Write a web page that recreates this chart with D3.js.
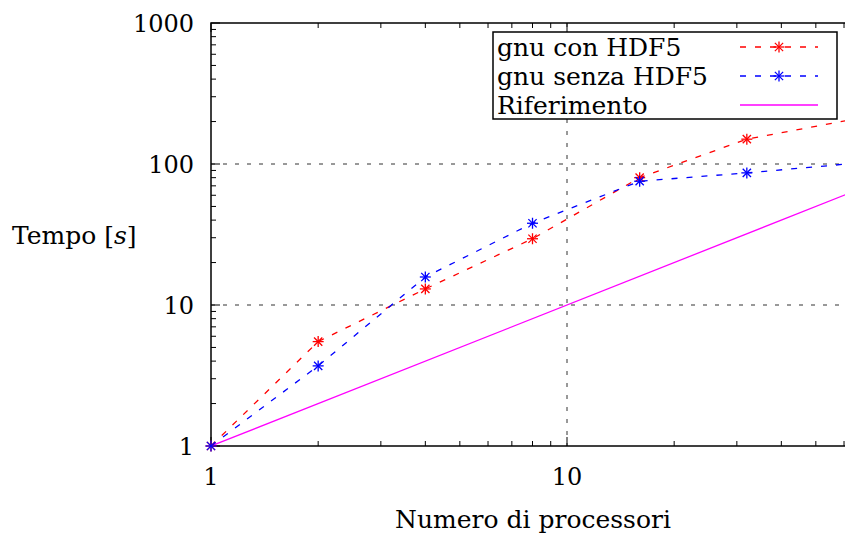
<!DOCTYPE html>
<html>
<head>
<meta charset="utf-8">
<script src="https://cdn.jsdelivr.net/npm/d3@7"></script>
<style>
  body { margin: 0; background: #fff; }
  svg { display: block; }
  text { font-family: "DejaVu Serif", "Liberation Serif", serif; fill: #000; }
</style>
</head>
<body>
<svg id="chart"></svg>
<script>
const width = 845;
const height = 536;

// data
const processors = [1, 2, 4, 8, 16, 32, 64];
const conHDF5 = [1, 5.5, 13, 29.5, 80, 150, 208];
const senzaHDF5 = [1, 3.7, 15.8, 38, 75.5, 86.5, 101];
const riferimento = [1, 64];
const xTicks = [1, 10];
const yTicks = [1, 10, 100, 1000];
const seriesNames = ["gnu con HDF5", "gnu senza HDF5", "Riferimento"];

const tickFont = 24;
const titleFont = 25;
const legendFont = 25;

const svg = d3.select("#chart")
    .attr("width", width)
    .attr("height", height);

const plotLeft = 211, plotTop = 23, plotBottom = 446;

const x = d3.scaleLog().domain([1, 64]).range([plotLeft, plotLeft + 356 * Math.log10(64)]);
const y = d3.scaleLog().domain([1, 1000]).range([plotBottom, plotTop]);
const plotRight = x(64);

svg.append("defs").append("clipPath").attr("id", "clip")
    .append("rect").attr("x", plotLeft).attr("y", plotTop)
    .attr("width", plotRight - plotLeft).attr("height", plotBottom - plotTop);

// grid
const grid = svg.append("g").attr("stroke", "#333").attr("stroke-width", 1)
    .attr("stroke-dasharray", "4,8");
[10, 100].forEach(v => {
    grid.append("line").attr("x1", plotLeft).attr("x2", plotRight)
        .attr("y1", y(v)).attr("y2", y(v));
});
grid.append("line").attr("x1", x(10)).attr("x2", x(10))
    .attr("y1", plotTop).attr("y2", plotBottom);

// ticks (inward, mirrored)
const ticks = svg.append("g").attr("stroke", "#000").attr("stroke-width", 1);
const xMinor = [];
for (let d = 1; d <= 10; d *= 10) for (let k = 1; k < 10; k++) if (d * k <= 64) xMinor.push(d * k);
xMinor.forEach(v => {
    const len = xTicks.includes(v) ? 9 : 5;
    ticks.append("line").attr("x1", x(v)).attr("x2", x(v)).attr("y1", plotBottom).attr("y2", plotBottom - len);
    ticks.append("line").attr("x1", x(v)).attr("x2", x(v)).attr("y1", plotTop).attr("y2", plotTop + len);
});
const yMinor = [];
for (let d = 1; d < 1000; d *= 10) for (let k = 1; k < 10; k++) yMinor.push(d * k);
yMinor.push(1000);
yMinor.forEach(v => {
    const len = yTicks.includes(v) ? 9 : 5;
    ticks.append("line").attr("x1", plotLeft).attr("x2", plotLeft + len).attr("y1", y(v)).attr("y2", y(v));
    ticks.append("line").attr("x1", plotRight).attr("x2", plotRight - len).attr("y1", y(v)).attr("y2", y(v));
});

// frame
svg.append("rect").attr("x", plotLeft).attr("y", plotTop)
    .attr("width", plotRight - plotLeft).attr("height", plotBottom - plotTop)
    .attr("fill", "none").attr("stroke", "#000").attr("stroke-width", 1.5);

// tick labels
svg.selectAll(".ylab").data(yTicks).enter().append("text")
    .attr("x", 194).attr("y", d => y(d)).attr("dy", "0.36em")
    .attr("text-anchor", "end").attr("font-size", tickFont).text(d => d);
svg.selectAll(".xlab").data(xTicks).enter().append("text")
    .attr("x", d => x(d)).attr("y", 485)
    .attr("text-anchor", "middle").attr("font-size", tickFont).text(d => d);

// axis titles
svg.append("text").attr("x", 533).attr("y", 528).attr("text-anchor", "middle")
    .attr("font-size", titleFont).text("Numero di processori");
const yt = svg.append("text").attr("x", 12).attr("y", 244).attr("font-size", titleFont);
yt.append("tspan").text("Tempo [");
yt.append("tspan").attr("font-style", "italic").text("s");
yt.append("tspan").text("]");

// series
const line = d3.line().x(d => x(d[0])).y(d => y(d[1]));
const plot = svg.append("g").attr("clip-path", "url(#clip)");
const marks = svg.append("g");

function star(g, cx, cy, color) {
    const r = 5.5;
    const p = g.append("g").attr("stroke", color).attr("stroke-width", 1.3);
    p.append("line").attr("x1", cx - r).attr("x2", cx + r).attr("y1", cy).attr("y2", cy);
    p.append("line").attr("x1", cx).attr("x2", cx).attr("y1", cy - r).attr("y2", cy + r);
    const q = r * 0.75;
    p.append("line").attr("x1", cx - q).attr("x2", cx + q).attr("y1", cy - q).attr("y2", cy + q);
    p.append("line").attr("x1", cx - q).attr("x2", cx + q).attr("y1", cy + q).attr("y2", cy - q);
}

plot.append("path").datum(riferimento.map(v => [v, v]))
    .attr("d", line).attr("fill", "none").attr("stroke", "#ff00ff").attr("stroke-width", 1.3);

const series = [
    { values: conHDF5, color: "#ff0000" },
    { values: senzaHDF5, color: "#0000ff" }
];
series.forEach(s => {
    plot.append("path").datum(processors.map((p, i) => [p, s.values[i]]))
        .attr("d", line).attr("fill", "none").attr("stroke", s.color)
        .attr("stroke-width", 1.3).attr("stroke-dasharray", "6,9");
});
series.forEach(s => {
    processors.forEach((p, i) => {
        if (p <= 32) star(marks, x(p), y(s.values[i]), s.color);
    });
});

// legend
const legend = svg.append("g");
legend.append("rect").attr("x", 493).attr("y", 32).attr("width", 344).attr("height", 87)
    .attr("fill", "#fff").attr("stroke", "#000").attr("stroke-width", 1.5);
const legendRows = [
    { color: "#ff0000", dash: "6,9", mark: true },
    { color: "#0000ff", dash: "6,9", mark: true },
    { color: "#ff00ff", dash: null, mark: false }
];
legendRows.forEach((r, i) => {
    const cy = 47 + i * 29;
    legend.append("text").attr("x", 497).attr("y", cy).attr("dy", "0.36em")
        .attr("font-size", legendFont).text(seriesNames[i]);
    legend.append("line").attr("x1", 740).attr("x2", 818).attr("y1", cy).attr("y2", cy)
        .attr("stroke", r.color).attr("stroke-width", 1.3)
        .attr("stroke-dasharray", r.dash);
    if (r.mark) star(legend, 779, cy, r.color);
});
</script>
</body>
</html>
